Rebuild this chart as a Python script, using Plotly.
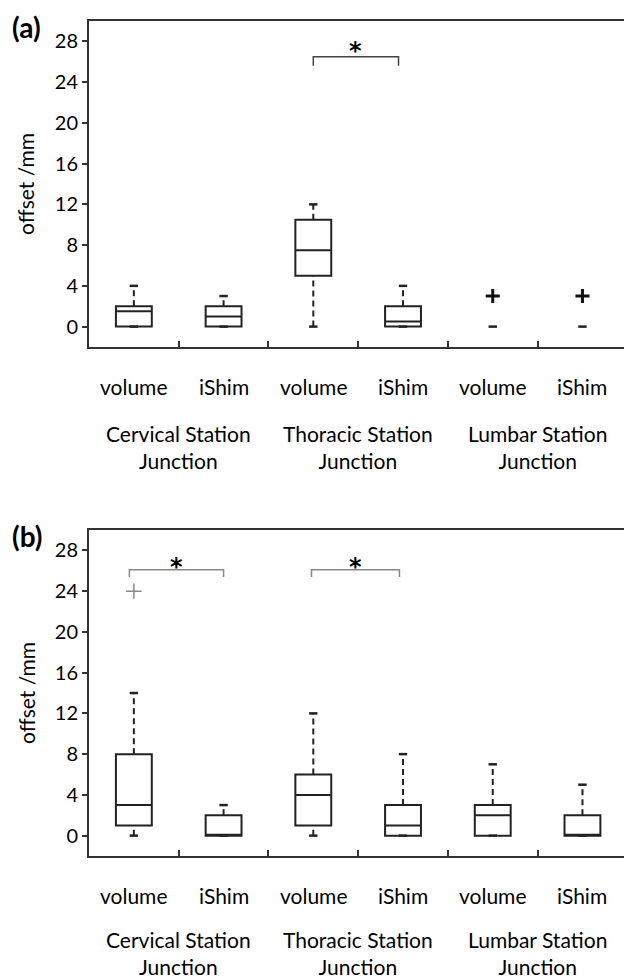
import plotly.graph_objects as go

# ---------------- data ----------------
positions = [1, 2, 3, 4, 5, 6]
method_labels = ["volume", "iShim", "volume", "iShim", "volume", "iShim"]
group_labels = ["Cervical Sta\u200ction<br>Junc\u200ction",
                "Thoracic Sta\u200ction<br>Junc\u200ction",
                "Lumbar Sta\u200ction<br>Junc\u200ction"]
group_centers = [1.5, 3.5, 5.5]
y_ticks = [0, 4, 8, 12, 16, 20, 24, 28]

# panel (a)
a_q1 = [0, 0, 5, 0, None, None]
a_med = [1.5, 1, 7.5, 0.5, None, None]
a_q3 = [2, 2, 10.5, 2, None, None]
a_min = [0, 0, 0, 0, 0, 0]
a_max = [4, 3, 12, 4, None, None]
a_out = [[], [], [], [], [3], [3]]
a_sig = [(3.0, 3.95)]

# panel (b)
b_q1 = [1, 0, 1, 0, 0, 0]
b_med = [3, 0, 4, 1, 2, 0]
b_q3 = [8, 2, 6, 3, 3, 2]
b_min = [0, 0, 0, 0, 0, 0]
b_max = [14, 3, 12, 8, 7, 5]
b_out = [[24], [], [], [], [], []]
b_sig = [(0.95, 2.0), (2.98, 3.96)]

FONT = "Lato"
DARK = "#222222"
AX = "#333333"

fig = go.Figure()


def add_panel(xa, ya, q1, med, q3, mn, mx, out, sig, out_style, sig_color,
              bracket_y, bracket_drop, star_y):
    # boxes
    bx, bq1, bmed, bq3 = [], [], [], []
    for p, a, m, b in zip(positions, q1, med, q3):
        if a is not None:
            bx.append(p); bq1.append(a); bmed.append(m); bq3.append(b)
    fig.add_trace(go.Box(x=bx, q1=bq1, median=bmed, q3=bq3,
                         lowerfence=bq1, upperfence=bq3, width=0.4,
                         whiskerwidth=0, fillcolor="white",
                         line=dict(color=DARK, width=2), boxpoints=False,
                         xaxis=xa, yaxis=ya, showlegend=False, hoverinfo="skip"))
    # dashed whiskers
    wx, wy = [], []
    for p, a, b, lo, hi in zip(positions, q1, q3, mn, mx):
        if a is None:
            continue
        if hi is not None and hi > b:
            wx += [p, p, None]; wy += [b, hi, None]
        if lo is not None and lo < a:
            wx += [p, p, None]; wy += [lo, a, None]
    fig.add_trace(go.Scatter(x=wx, y=wy, mode="lines",
                             line=dict(color=DARK, width=2, dash="6px,4px"),
                             xaxis=xa, yaxis=ya, showlegend=False, hoverinfo="skip"))
    # whisker caps
    cx, cy = [], []
    for p, lo, hi in zip(positions, mn, mx):
        if lo is not None:
            cx.append(p); cy.append(lo)
        if hi is not None:
            cx.append(p); cy.append(hi)
    fig.add_trace(go.Scatter(x=cx, y=cy, mode="markers",
                             marker=dict(symbol="line-ew", size=6,
                                         line=dict(color=DARK, width=2.5)),
                             xaxis=xa, yaxis=ya, showlegend=False, hoverinfo="skip"))
    # outliers
    ox, oy = [], []
    for p, vals in zip(positions, out):
        for v in vals:
            ox.append(p); oy.append(v)
    fig.add_trace(go.Scatter(x=ox, y=oy, mode="markers",
                             marker=dict(symbol="cross-thin", size=out_style[0],
                                         line=dict(color=out_style[1], width=out_style[2])),
                             xaxis=xa, yaxis=ya, showlegend=False, hoverinfo="skip"))
    # significance brackets
    for x0, x1 in sig:
        fig.add_trace(go.Scatter(x=[x0, x0, x1, x1],
                                 y=[bracket_y - bracket_drop, bracket_y, bracket_y, bracket_y - bracket_drop],
                                 mode="lines", line=dict(color=sig_color, width=1.5),
                                 xaxis=xa, yaxis=ya, showlegend=False, hoverinfo="skip"))
        fig.add_annotation(x=(x0 + x1) / 2, y=star_y, xref=xa, yref=ya, text="<b>*</b>",
                           showarrow=False, font=dict(family="DejaVu Sans", size=24, color="black"),
                           yanchor="middle", yshift=-7)


add_panel("x", "y", a_q1, a_med, a_q3, a_min, a_max, a_out, a_sig,
          (10, "#111111", 3), "#444444", 26.5, 0.9, 27.7)
add_panel("x2", "y2", b_q1, b_med, b_q3, b_min, b_max, b_out, b_sig,
          (11, "#888888", 1.5), "#888888", 26.1, 0.7, 27.1)

# labels
for xa, ya, tag, gshift in [("x", "y", "(a)", -72), ("x2", "y2", "(b)", -69)]:
    for p, lab in zip(positions, method_labels):
        fig.add_annotation(x=p, y=0, xref=xa, yref=f"{ya} domain", text=lab,
                           showarrow=False, yanchor="middle", yshift=-40,
                           font=dict(family=FONT, size=21, color="black"))
    for c, lab in zip(group_centers, group_labels):
        fig.add_annotation(x=c, y=0, xref=xa, yref=f"{ya} domain", text=lab,
                           showarrow=False, yanchor="top", yshift=gshift,
                           font=dict(family=FONT, size=21, color="black"))
    fig.add_annotation(x=0, y=0.5, xref=f"{xa} domain", yref=f"{ya} domain",
                       text="offset /mm", textangle=-90, showarrow=False,
                       xanchor="center", yanchor="middle", xshift=-63,
                       font=dict(family=FONT, size=21, color="black"))
    fig.add_annotation(x=0, y=1, xref=f"{xa} domain", yref=f"{ya} domain",
                       text=f"<b>{tag}</b>", showarrow=False,
                       xanchor="left", yanchor="middle", xshift=-79, yshift=-6,
                       font=dict(family=FONT, size=28, color="black"))

xaxis_common = dict(range=[0.5, 6.463], showline=True, linecolor=AX, linewidth=2,
                    mirror=True, tickvals=[1.5, 2.5, 3.5, 4.5, 5.5], ticks="inside",
                    ticklen=6, tickwidth=2, tickcolor=AX, showticklabels=False,
                    showgrid=False, zeroline=False)
yaxis_common = dict(range=[-2, 30], tickvals=y_ticks, ticks="outside", ticklen=5,
                    tickwidth=2, tickcolor=AX, showline=True, linecolor=AX, linewidth=2,
                    showgrid=False, zeroline=False, ticksuffix="\u2002",
                    tickfont=dict(family=FONT, size=20, color="black"))

fig.update_layout(
    width=624, height=978,
    margin=dict(l=88.5, r=0, t=21, b=122),
    plot_bgcolor="white", paper_bgcolor="white",
    xaxis=dict(xaxis_common, anchor="y"),
    yaxis=dict(yaxis_common, domain=[0.6096, 1.0], anchor="x"),
    xaxis2=dict(xaxis_common, anchor="y2"),
    yaxis2=dict(yaxis_common, domain=[0.0, 0.3904], anchor="x2"),
    showlegend=False,
)

fig.write_html("out.html")
